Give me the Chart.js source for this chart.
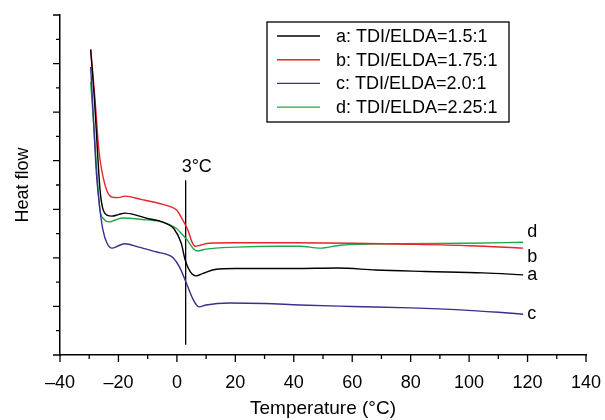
<!DOCTYPE html>
<html>
<head>
<meta charset="utf-8">
<script src="https://cdn.jsdelivr.net/npm/chart.js@4.4.1/dist/chart.umd.min.js"></script>
<style>
  body { margin: 0; background: #fff; }
  #wrap { width: 605px; height: 420px; }
</style>
</head>
<body>
<div id="wrap"><canvas id="dsc" width="605" height="420"></canvas></div>
<script>
// DSC curves, temperature (°C) vs heat flow (arbitrary units)
const aTemp = [-29.5, -28.2, -27.2, -26.3, -25.5, -23.9, -22.2, -20, -17.8, -14, -10, -6, -3.4, -1, 1.5, 2.8, 4.5, 6.5, 9, 13, 20, 40, 55, 68, 85, 104.8, 118.5];
const aHeat = [6.28, 5.25, 4.22, 3.40, 3.05, 2.88, 2.86, 2.89, 2.92, 2.88, 2.81, 2.76, 2.70, 2.60, 2.30, 1.96, 1.72, 1.63, 1.68, 1.76, 1.78, 1.78, 1.79, 1.75, 1.72, 1.69, 1.65];

const bTemp = [-29.5, -28.0, -26.7, -24.6, -22.2, -20, -17.8, -12, -6, -2, 0, 2, 3.8, 5, 6.2, 8, 11, 20, 40, 60, 80, 100, 118.5];
const bHeat = [6.30, 5.25, 4.22, 3.50, 3.25, 3.24, 3.27, 3.20, 3.12, 3.05, 2.98, 2.78, 2.57, 2.35, 2.24, 2.26, 2.30, 2.31, 2.31, 2.30, 2.28, 2.25, 2.20];

const cTemp = [-29.5, -28.5, -27.5, -26.3, -25.3, -23.9, -22.2, -20, -17.8, -13, -6.8, -3, -1.3, 1, 3.5, 5.5, 7.6, 10, 18, 30, 42, 60, 80, 97, 110, 118.5];
const cHeat = [5.93, 4.80, 3.70, 2.98, 2.57, 2.30, 2.20, 2.25, 2.29, 2.22, 2.12, 2.06, 2.00, 1.80, 1.44, 1.15, 0.99, 1.03, 1.07, 1.06, 1.03, 1.00, 0.97, 0.93, 0.88, 0.84];

const dTemp = [-29.5, -28.3, -27.2, -26.3, -25, -23.3, -21, -18.5, -12, -6, -2.4, 0, 2, 3.5, 5.5, 6.9, 10, 20, 35, 42, 49, 56, 76, 100, 118.5];
const dHeat = [5.62, 4.60, 3.60, 2.98, 2.80, 2.74, 2.78, 2.82, 2.79, 2.75, 2.68, 2.60, 2.47, 2.37, 2.20, 2.14, 2.18, 2.22, 2.24, 2.24, 2.20, 2.26, 2.29, 2.30, 2.32];

const seriesNames = ['a: TDI/ELDA=1.5:1', 'b: TDI/ELDA=1.75:1', 'c: TDI/ELDA=2.0:1', 'd: TDI/ELDA=2.25:1'];
const endTags = ['a', 'b', 'c', 'd'];
const colors = ['#000000', '#e8232b', '#3b2f8c', '#1fa84a'];

// marker line at the transition temperature
const markTemp = [3, 3];
const markHeat = [3.60, 0.21];

const FONT = "'Liberation Sans', Arial, sans-serif";

function pts(xs, ys) {
    return xs.map((x, i) => ({ x: x, y: ys[i] }));
}

const curves = [pts(aTemp, aHeat), pts(bTemp, bHeat), pts(cTemp, cHeat), pts(dTemp, dHeat)];

const datasets = curves.map((data, i) => ({
    label: seriesNames[i],
    data: data,
    borderColor: colors[i],
    borderWidth: 1.4,
    pointRadius: 0,
    tension: 0.4,
    cubicInterpolationMode: 'monotone',
    fill: false
}));

datasets.push({
    label: '',
    data: pts(markTemp, markHeat),
    borderColor: '#000',
    borderWidth: 1.3,
    pointRadius: 0,
    fill: false
});

// outward tick marks, long on major values and short on minor ones
const tickMarks = {
    id: 'tickMarks',
    afterDraw(chart) {
        const ctx = chart.ctx;
        const x = chart.scales.x;
        const y = chart.scales.y;
        ctx.save();
        ctx.strokeStyle = '#000';
        ctx.lineWidth = 1.3;
        ctx.beginPath();
        x.ticks.forEach(t => {
            const px = x.getPixelForValue(t.value);
            const len = t.value % 20 === 0 ? 7 : 4;
            ctx.moveTo(px, x.top);
            ctx.lineTo(px, x.top + len);
        });
        y.ticks.forEach(t => {
            const py = y.getPixelForValue(t.value);
            const len = Number.isInteger(t.value) ? 7 : 4;
            ctx.moveTo(y.right, py);
            ctx.lineTo(y.right - len, py);
        });
        ctx.stroke();
        ctx.restore();
    }
};

// boxed legend inside the plot, plus the curve letters and the 3°C note
const notes = {
    id: 'notes',
    afterDraw(chart) {
        const ctx = chart.ctx;
        const x = chart.scales.x;
        const y = chart.scales.y;
        ctx.save();
        ctx.font = '18px ' + FONT;
        ctx.fillStyle = '#000';
        ctx.textBaseline = 'middle';

        // legend box
        const bx = 267, by = 22, bw = 242, bh = 100;
        ctx.strokeStyle = '#000';
        ctx.lineWidth = 1.3;
        ctx.strokeRect(bx, by, bw, bh);
        seriesNames.forEach((name, i) => {
            const ry = by + 14 + i * 23.7;
            ctx.strokeStyle = colors[i];
            ctx.lineWidth = 1.4;
            ctx.beginPath();
            ctx.moveTo(bx + 10, ry);
            ctx.lineTo(bx + 53, ry);
            ctx.stroke();
            ctx.textAlign = 'left';
            ctx.fillText(name, bx + 69, ry + 1);
        });

        // letters at the end of each curve
        const shift = { a: 0, b: 9, c: 0, d: -10 };
        curves.forEach((data, i) => {
            const last = data[data.length - 1];
            const px = x.getPixelForValue(last.x);
            const py = y.getPixelForValue(last.y);
            ctx.textAlign = 'left';
            ctx.fillText(endTags[i], px + 4, py + shift[endTags[i]]);
        });

        // transition temperature label above the marker line
        const mx = x.getPixelForValue(markTemp[0]);
        const my = y.getPixelForValue(markHeat[0]);
        ctx.textAlign = 'left';
        ctx.fillText('3\u00b0C', mx - 4, my - 13);
        ctx.restore();
    }
};

new Chart(document.getElementById('dsc'), {
    type: 'line',
    data: { datasets: datasets },
    options: {
        responsive: false,
        animation: false,
        layout: { padding: { top: 15, right: 19, left: 0, bottom: 0 } },
        plugins: {
            legend: { display: false },
            tooltip: { enabled: false }
        },
        scales: {
            x: {
                type: 'linear',
                min: -40,
                max: 140,
                afterFit(scale) {
                    scale.height = 65;
                    scale.paddingLeft = 0;
                    scale.paddingRight = 0;
                },
                grid: { display: false },
                border: { display: true, color: '#000', width: 1.5 },
                ticks: {
                    stepSize: 10,
                    autoSkip: false,
                    maxRotation: 0,
                    padding: 9,
                    color: '#000',
                    font: { family: FONT, size: 18 },
                    callback: v => (v % 20 === 0 ? String(v).replace('-', '\u2013') : '')
                },
                title: {
                    display: true,
                    text: 'Temperature (\u00b0C)',
                    color: '#000',
                    font: { family: FONT, size: 19 },
                    padding: 0
                }
            },
            y: {
                min: 0,
                max: 7,
                afterFit(scale) { scale.width = 60; },
                grid: { display: false },
                border: { display: true, color: '#000', width: 1.5 },
                ticks: { stepSize: 0.5, display: false },
                title: {
                    display: true,
                    text: 'Heat flow',
                    color: '#000',
                    font: { family: FONT, size: 18 },
                    padding: { top: 12, bottom: 0 }
                }
            }
        }
    },
    plugins: [tickMarks, notes]
});
</script>
</body>
</html>
